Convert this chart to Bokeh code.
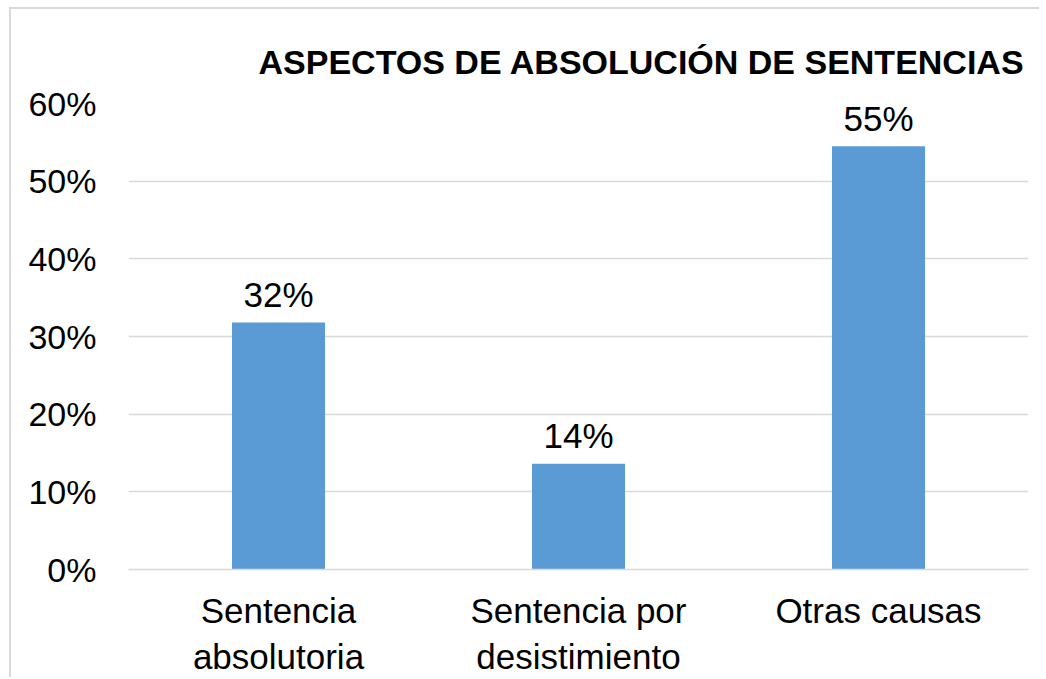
from bokeh.plotting import figure
from bokeh.models import ColumnDataSource, NumeralTickFormatter, FixedTicker
from bokeh.core.properties import value
from bokeh.embed import file_html
from bokeh.resources import INLINE

categories = ["Sentencia\nabsolutoria", "Sentencia por\ndesistimiento", "Otras causas"]
values = [0.318, 0.136, 0.545]
value_labels = [f"{round(v * 100)}%" for v in values]
y_ticks = [0.0, 0.1, 0.2, 0.3, 0.4, 0.5, 0.6]
title_text = "ASPECTOS DE ABSOLUCIÓN DE SENTENCIAS"

FONT = "Liberation Sans"

src = ColumnDataSource(dict(cat=categories, val=values, lab=value_labels))

p = figure(x_range=categories, y_range=(0, 0.6), width=1030, height=670,
           output_backend="svg", toolbar_location=None,
           min_border_left=117, min_border_right=13, min_border_top=94, min_border_bottom=110)
p.styles = {"margin-left": "9px", "margin-top": "7px",
            "border-left": "2px solid #d9d9d9", "border-top": "2px solid #d9d9d9"}
p.outline_line_color = None
p.background_fill_color = "white"
p.border_fill_color = "white"

p.vbar(x="cat", top="val", width=0.31, source=src, color="#5B9BD5", line_color=None)

p.text(x="cat", y="val", text="lab", source=src, text_align="center",
       text_baseline="alphabetic", y_offset=-28, text_font=value(FONT),
       text_font_size="35px", text_color="#000000")

# title
p.title.text = title_text
p.title.text_font = FONT
p.title.text_font_size = "34px"
p.title.text_font_style = "bold"
p.title.text_color = "#000000"
p.title.align = "left"
p.title.offset = 130
p.title.standoff = 46

# grid
p.xgrid.grid_line_color = None
p.ygrid.grid_line_color = "#d9d9d9"
p.ygrid.grid_line_width = 1.5

# y axis
p.yaxis.ticker = FixedTicker(ticks=y_ticks)
p.yaxis.formatter = NumeralTickFormatter(format="0%")
p.yaxis.axis_line_color = None
p.yaxis.major_tick_line_color = None
p.yaxis.minor_tick_line_color = None
p.yaxis.major_label_text_font = FONT
p.yaxis.major_label_text_font_size = "34px"
p.yaxis.major_label_text_color = "#000000"
p.yaxis.major_label_standoff = 26

# x axis
p.xaxis.axis_line_color = "#d9d9d9"
p.xaxis.axis_line_width = 1.5
p.xaxis.major_tick_line_color = None
p.xaxis.minor_tick_line_color = None
p.xaxis.major_label_text_font = FONT
p.xaxis.major_label_text_font_size = "35px"
p.xaxis.major_label_text_color = "#000000"
p.xaxis.major_label_text_line_height = 1.2
p.xaxis.major_label_standoff = 15

open("out.html", "w").write(file_html(p, INLINE))
